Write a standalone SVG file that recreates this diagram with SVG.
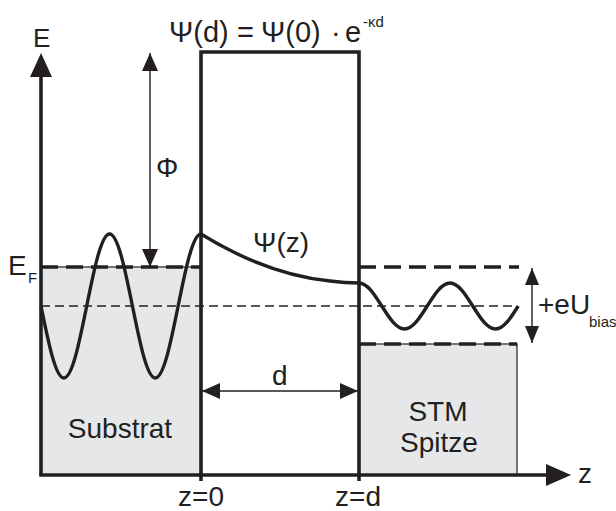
<svg xmlns="http://www.w3.org/2000/svg" width="616" height="511" viewBox="0 0 616 511">
<style>
text{font-family:"Liberation Sans",Arial,sans-serif;fill:#231f20;font-size:28px}
.sub{font-size:15px}
.c{text-anchor:middle}
.box{fill:#e6e7e8;stroke:#231f20;stroke-width:1.2}
.thick{fill:none;stroke:#231f20;stroke-width:3.6}
.dash{fill:none;stroke:#231f20;stroke-width:3.6;stroke-dasharray:17 8}
.tdash{fill:none;stroke:#231f20;stroke-width:1.4;stroke-dasharray:9 5}
.wave{fill:none;stroke:#231f20;stroke-width:3.4;stroke-linejoin:round}
.arr{fill:none;stroke:#231f20;stroke-width:1.4}
.head{fill:#231f20}
</style>
<defs>
<marker id="ah" markerUnits="userSpaceOnUse" markerWidth="18" markerHeight="16" refX="18" refY="8" orient="auto-start-reverse">
<path d="M0,0 L18,8 L0,16 Z" fill="#231f20"/>
</marker>
<marker id="ah2" markerUnits="userSpaceOnUse" markerWidth="17" markerHeight="14" refX="17" refY="7" orient="auto-start-reverse">
<path d="M0,0 L17,7 L0,14 Z" fill="#231f20"/>
</marker>
</defs>

<g id="substrate">
<rect class="box" x="41" y="267" width="160" height="208"/>
<line class="dash" x1="41" y1="267" x2="201" y2="267"/>
<text class="c" x="120" y="438">Substrat</text>
</g>

<g id="tip">
<rect class="box" x="359" y="344" width="158" height="131"/>
<line class="dash" x1="359" y1="344" x2="517" y2="344"/>
<line class="dash" x1="359" y1="267" x2="519" y2="267"/>
<text class="c" x="438" y="421">STM</text>
<text class="c" x="439" y="452">Spitze</text>
</g>

<g id="barrier">
<path class="thick" d="M201,481 V52 H359 V481"/>
</g>

<g id="fermi-mid">
<line class="tdash" x1="41" y1="306" x2="517" y2="306"/>
</g>

<g id="axes">
<line class="thick" x1="41" y1="475" x2="41" y2="74"/>
<polygon class="head" points="41,53 30,77 52,77"/>
<line class="thick" x1="39.2" y1="475" x2="548" y2="475"/>
<polygon class="head" points="571,475 546,464 546,486"/>
</g>

<g id="waves">
<path class="wave" d="M41,306 C48.45,342.89 55.59,378 63.86,378 C72.13,378 79.26,342.89 86.71,306 C94.17,269.11 101.30,234 109.57,234 C117.84,234 124.97,269.11 132.43,306 C139.88,342.89 147.01,378 155.29,378 C163.56,378 170.69,342.89 178.14,306 C185.60,269.11 192.73,234 201,234 C235,255 280,276 330,281 C345,283 352,283 359,283 C367.23,283 374.33,294.22 381.75,306 C389.17,317.78 396.27,329 404.5,329 C412.73,329 419.83,317.78 427.25,306 C434.67,294.22 441.77,283 450,283 C458.23,283 465.33,294.22 472.75,306 C480.17,317.78 487.27,329 495.5,329 C503.73,329 510.83,317.78 518.25,306"/>
</g>

<g id="connectors">
<line class="arr" x1="150" y1="53" x2="150" y2="267" marker-start="url(#ah)" marker-end="url(#ah)"/>
<line class="arr" x1="202" y1="391" x2="358" y2="391" marker-start="url(#ah)" marker-end="url(#ah)"/>
<line class="arr" x1="532" y1="268" x2="532" y2="343" marker-start="url(#ah2)" marker-end="url(#ah2)"/>
</g>

<g id="labels">
<text x="33" y="47" style="font-size:26px">E</text>
<text y="42" style="font-size:29px"><tspan x="169">Ψ(d)</tspan><tspan x="237">=</tspan><tspan x="261">Ψ(0)</tspan><tspan x="331">·</tspan><tspan x="345">e</tspan></text>
<text class="sub" x="363" y="27">-κd</text>
<text x="156" y="177">Φ</text>
<text x="8" y="275">E</text>
<text class="sub" x="28" y="283">F</text>
<text x="253" y="252">Ψ(z)</text>
<text x="272" y="385">d</text>
<text x="538" y="314">+eU</text>
<text class="sub" x="589" y="327">bias</text>
<text class="c" x="201" y="506">z=0</text>
<text class="c" x="358" y="506">z=d</text>
<text x="578" y="483">z</text>
</g>
</svg>
